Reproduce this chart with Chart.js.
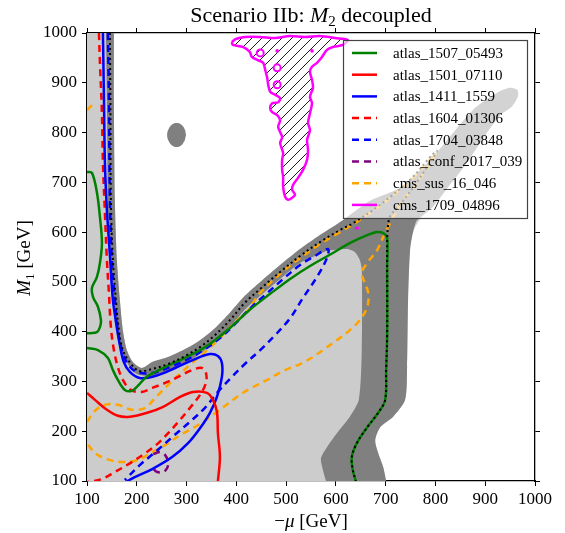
<!DOCTYPE html>
<html><head><meta charset="utf-8">
<script src="https://cdn.jsdelivr.net/npm/chart.js@4.4.1/dist/chart.umd.min.js"></script>
<style>html,body{margin:0;padding:0;background:#fff;}canvas{display:block;}</style>
</head><body>
<canvas id="c" width="565" height="533"></canvas>
<script>
// ---------- data (GeV) ----------
const xTicks = [100,200,300,400,500,600,700,800,900,1000];
const yTicks = [100,200,300,400,500,600,700,800,900,1000];
const legendLabels = ['atlas_1507_05493','atlas_1501_07110','atlas_1411_1559','atlas_1604_01306','atlas_1704_03848','atlas_conf_2017_039','cms_sus_16_046','cms_1709_04896'];

const lightRegion = [[100,1000],[100,1000],[154,1000],[154,1000],[154,940],[154,865],[156,665],[160,544],[166,464],[172,403],[180,363],[192,339],[210,327],[231,339],[263,349],[297,365],[327,383],[357,407],[387,438],[417,472],[448,500],[488,534],[528,566],[568,594],[614,624],[669,663],[729,689],[795,751],[875,845],[924,880],[950,890],[964,886],[966,874],[954,853],[930,835],[900,795],[863,739],[829,695],[795,651],[769,626],[755,600],[749,564],[745,464],[743,329],[739,263],[715,229],[689,208],[679,182],[685,156],[695,128],[701,100],[701,100],[400,100],[100,100],[100,100],[100,550],[100,1000]];

const darkRegion = [[138,1000],[138,1000],[139,940],[140,865],[142,665],[146,544],[152,464],[158,403],[168,363],[182,335],[200,315],[231,311],[263,321],[297,337],[327,355],[357,379],[387,409],[417,444],[448,472],[488,506],[528,538],[558,552],[582,562],[622,566],[638,560],[648,544],[652,524],[652,363],[646,263],[628,229],[602,196],[582,168],[570,146],[574,122],[580,100],[580,100],[640,100],[701,100],[701,100],[695,128],[685,156],[679,182],[689,208],[715,229],[739,263],[743,329],[745,464],[749,564],[755,600],[763,624],[795,651],[829,695],[863,739],[900,795],[930,835],[954,853],[966,874],[964,886],[950,890],[924,880],[875,845],[795,751],[729,689],[669,663],[614,624],[568,594],[528,566],[488,534],[448,500],[417,472],[387,438],[357,407],[327,383],[297,365],[263,349],[231,339],[210,327],[192,339],[180,363],[172,403],[166,464],[160,544],[156,665],[154,865],[154,940],[154,1000],[154,1000],[146,1000],[138,1000]];

const darkBlob = [[299,795],[296,807],[289,816],[280,819],[271,816],[264,807],[261,795],[264,783],[271,774],[280,771],[289,774],[296,783]];

const dottedBlack = [[146,1000],[147,865],[148,665],[152,544],[158,464],[164,403],[172,363],[187,337],[205,321],[231,325],[263,335],[297,351],[327,369],[357,393],[387,423],[417,458],[448,486],[488,520],[528,552],[568,580],[608,604],[638,620],[689,655],[749,705],[793,755],[803,763],[789,739],[759,695],[729,655],[709,632],[705,614],[703,584],[703,530],[703,397],[701,323],[699,263],[685,237],[663,208],[642,176],[632,148],[634,122],[640,100]];

const greenA = [[100,721],[110,719],[120,679],[126,630],[130,578],[126,538],[120,510],[110,488],[112,470],[122,450],[128,423],[126,409],[120,399],[106,397],[100,397]];
const greenB = [[100,367],[122,363],[142,347],[152,323],[162,303],[176,283],[190,281],[202,291],[217,307],[237,319],[257,329],[287,343],[327,363],[357,383],[391,411],[427,444],[468,476],[508,506],[548,532],[594,558],[628,578],[663,594],[683,600],[695,598],[703,588],[703,530],[703,397],[701,323],[699,263],[685,237],[663,208],[642,176],[632,148],[634,122],[640,100]];

const redSolid = [[100,277],[116,263],[140,243],[162,231],[186,229],[221,237],[253,249],[287,269],[313,279],[341,277],[353,263],[361,239],[363,196],[367,148],[363,100]];

const blueSolid = [[132,1000],[134,871],[136,739],[140,644],[146,554],[152,464],[160,409],[166,373],[174,339],[186,319],[206,307],[237,311],[277,327],[317,345],[347,355],[363,351],[371,337],[371,309],[361,269],[347,237],[327,206],[303,176],[271,148],[231,124],[196,108],[178,98]];

const redDashed = [[124,1000],[126,940],[130,839],[132,739],[136,638],[140,544],[144,478],[148,409],[154,363],[162,329],[172,303],[188,283],[210,279],[231,287],[257,297],[283,309],[311,323],[331,327],[339,317],[339,297],[327,273],[307,247],[287,223],[263,196],[241,174],[217,156],[190,138],[156,118],[130,104],[102,98]];

const blueDashed = [[142,1000],[144,865],[146,665],[150,544],[156,464],[162,403],[170,363],[182,335],[200,319],[231,317],[267,329],[303,345],[337,365],[367,387],[399,417],[427,446],[458,474],[492,504],[528,534],[558,552],[584,566],[582,548],[562,510],[534,468],[508,427],[478,393],[448,363],[417,335],[391,309],[363,279],[337,247],[307,219],[271,188],[237,158],[206,132],[176,102]];

const purpleDashed = [[233,154],[247,158],[257,152],[263,138],[261,126],[253,118],[241,118],[233,124]];

const orangeShort = [[100,845],[106,851],[112,857]];
const orangeDashed = [[100,219],[116,241],[136,253],[162,253],[190,243],[217,247],[237,267],[263,293],[291,319],[311,337],[337,359],[367,387],[397,419],[421,440],[448,478],[488,516],[528,548],[568,576],[608,600],[638,618],[689,653],[749,703],[795,753],[801,759],[785,731],[755,689],[729,655],[709,618],[695,590],[683,564],[663,538],[652,518],[658,498],[665,478],[663,450],[648,423],[628,403],[602,383],[574,363],[554,349],[528,335],[494,321],[462,303],[427,285],[407,273],[383,255],[353,233],[321,211],[287,192],[257,172],[231,158],[202,142],[170,138],[140,144],[116,156],[100,176]];

const magentaRegion = [[391,982],[399,988],[417,992],[448,992],[478,990],[508,994],[538,992],[568,994],[598,990],[624,986],[614,976],[594,972],[582,966],[572,952],[562,940],[552,932],[548,922],[552,906],[554,890],[548,872],[552,859],[548,839],[544,819],[548,805],[542,785],[544,765],[542,745],[534,725],[524,709],[514,695],[512,685],[518,675],[512,669],[504,665],[498,671],[494,691],[494,711],[492,725],[492,745],[494,759],[488,779],[492,791],[484,811],[488,825],[482,835],[472,841],[468,849],[472,859],[484,861],[488,869],[478,876],[468,882],[464,896],[462,910],[458,926],[454,940],[442,946],[431,952],[427,962],[413,972],[393,976],[391,982]];
const magentaRings = [[448,960],[482,930],[482,896]];
const magentaDots = [[482,964],[552,964]];
const magentaBit = [[638,608],[646,608]];

// ---------- styles ----------
const FONT = "'Liberation Serif','DejaVu Serif',serif";
const C = {green:'#008000', red:'#ff0000', blue:'#0000ff', purple:'#800080', orange:'#ffa500', magenta:'#ff00ff', light:'#cccccc', dark:'#808080'};
const DASH = [7,5];
const legendStyles = [
  {color:C.green, dash:[]},{color:C.red, dash:[]},{color:C.blue, dash:[]},
  {color:C.red, dash:DASH},{color:C.blue, dash:DASH},{color:C.purple, dash:DASH},
  {color:C.orange, dash:DASH},{color:C.magenta, dash:[]}
];

const pts = a => a.map(p => ({x:p[0], y:p[1]}));
const ctx0 = document.getElementById('c').getContext('2d');
function hatchPattern(){
  const c = document.createElement('canvas'); c.width = 10; c.height = 10;
  const g = c.getContext('2d');
  g.strokeStyle = '#000'; g.lineWidth = 0.9;
  g.beginPath(); g.moveTo(0,10); g.lineTo(10,0); g.moveTo(-1,1); g.lineTo(1,-1); g.moveTo(9,11); g.lineTo(11,9); g.stroke();
  return ctx0.createPattern(c,'repeat');
}
function line(data, color, dash, order, width){
  return {data:pts(data), showLine:true, borderColor:color, borderWidth:width||2.5, borderDash:dash||[], pointRadius:0, fill:false, tension:0.35, order:order};
}
function region(data, color, order){
  return {data:pts(data), showLine:true, borderColor:color, borderWidth:0, backgroundColor:color, pointRadius:0, fill:'shape', tension:0.25, order:order};
}

const datasets = [
  line(dottedBlack, '#000', [2,3], 1, 2),
  line(greenA, C.green, [], 3),
  line(greenB, C.green, [], 3),
  line(redSolid, C.red, [], 4),
  line(blueSolid, C.blue, [], 5),
  line(redDashed, C.red, DASH, 6),
  line(blueDashed, C.blue, DASH, 7),
  line(purpleDashed, C.purple, DASH, 8),
  line(orangeShort, C.orange, DASH, 9),
  line(orangeDashed, C.orange, DASH, 9),
  Object.assign(line(magentaRegion, C.magenta, [], 20), {fill:'shape', backgroundColor:hatchPattern(), tension:0.3}),
  {data:pts(magentaRings), showLine:false, pointRadius:3.5, pointBorderWidth:2, pointBorderColor:C.magenta, pointBackgroundColor:'rgba(0,0,0,0)', order:19},
  {data:pts(magentaDots), showLine:false, pointRadius:1.8, pointBorderWidth:0, pointBackgroundColor:C.magenta, order:19},
  line(magentaBit, C.magenta, [], 19),
  Object.assign(region(darkBlob, C.dark, 89), {tension:0.45}),
  region(darkRegion, C.dark, 90),
  region(lightRegion, C.light, 100)
];

function drawParts(ctx, parts, cx, y){
  let w = 0;
  parts.forEach(p => { ctx.font = p[1]; w += ctx.measureText(p[0]).width; });
  let x = cx - w/2;
  ctx.textAlign = 'left'; ctx.textBaseline = 'alphabetic';
  parts.forEach(p => { ctx.font = p[1]; ctx.fillText(p[0], x, y + p[2]); x += ctx.measureText(p[0]).width; });
}

const decor = {
  id:'decor',
  afterDraw(chart){
    const ctx = chart.ctx;
    ctx.save();
    ctx.fillStyle = '#000';
    drawParts(ctx, [['Scenario IIb: ', `22px ${FONT}`, 0], ['M', `italic 22px ${FONT}`, 0], ['2', `15px ${FONT}`, 4], [' decoupled', `22px ${FONT}`, 0]], 311, 22);
    drawParts(ctx, [['\u2212', `19px ${FONT}`, 0], ['\u03bc', `italic 19px ${FONT}`, 0], [' [GeV]', `19px ${FONT}`, 0]], 311, 527);
    ctx.save();
    ctx.translate(24, 258); ctx.rotate(-Math.PI/2);
    drawParts(ctx, [['M', `italic 19px ${FONT}`, 0], ['1', `13px ${FONT}`, 4], [' [GeV]', `19px ${FONT}`, 0]], 0, 6);
    ctx.restore();
    // legend
    ctx.fillStyle = 'rgba(255,255,255,0.65)';
    ctx.fillRect(343.5, 40.5, 184, 178);
    ctx.strokeStyle = '#444'; ctx.lineWidth = 1.2;
    ctx.strokeRect(343.5, 40.5, 184, 178);
    legendLabels.forEach((lab, i) => {
      const st = legendStyles[i], y = 53 + i*21.7;
      ctx.strokeStyle = st.color; ctx.lineWidth = 2.5; ctx.setLineDash(st.dash);
      ctx.beginPath(); ctx.moveTo(352, y); ctx.lineTo(377, y); ctx.stroke();
      ctx.setLineDash([]);
      ctx.fillStyle = '#000'; ctx.font = `15px ${FONT}`; ctx.textAlign = 'left'; ctx.textBaseline = 'middle';
      ctx.fillText(lab, 393, y + 1);
    });
    ctx.restore();
  }
};

function axis(pos, ticksArr, showLabels, size, pad){
  const horiz = (pos === 'bottom' || pos === 'top');
  return {
    type:'linear', position:pos, min:100, max:1000,
    afterBuildTicks: s => { s.ticks = ticksArr.map(v => ({value:v})); },
    afterFit: s => { if (horiz) s.height = size; else s.width = size; },
    ticks:{display:showLabels, color:'#000', font:{family:FONT, size:17}, padding:pad, maxRotation:0, autoSkip:false, callback: v => String(v)},
    grid:{display:true, drawOnChartArea:false, drawTicks:true, tickLength:5, tickColor:'#000', tickWidth:1, color:'#000'},
    border:{display:true, color:'#000', width:1.3}
  };
}

new Chart(ctx0, {
  type:'scatter',
  data:{datasets:datasets},
  options:{
    responsive:false, animation:false, devicePixelRatio:1, events:[],
    layout:{padding:0},
    plugins:{legend:{display:false}, tooltip:{enabled:false}, title:{display:false}},
    scales:{
      x:axis('bottom', xTicks, true, 52, 3),
      y:axis('left', yTicks, true, 87, 5),
      x2:axis('top', xTicks, false, 33, 0),
      y2:axis('right', yTicks, false, 30, 0)
    }
  },
  plugins:[decor]
});
</script>
</body></html>
